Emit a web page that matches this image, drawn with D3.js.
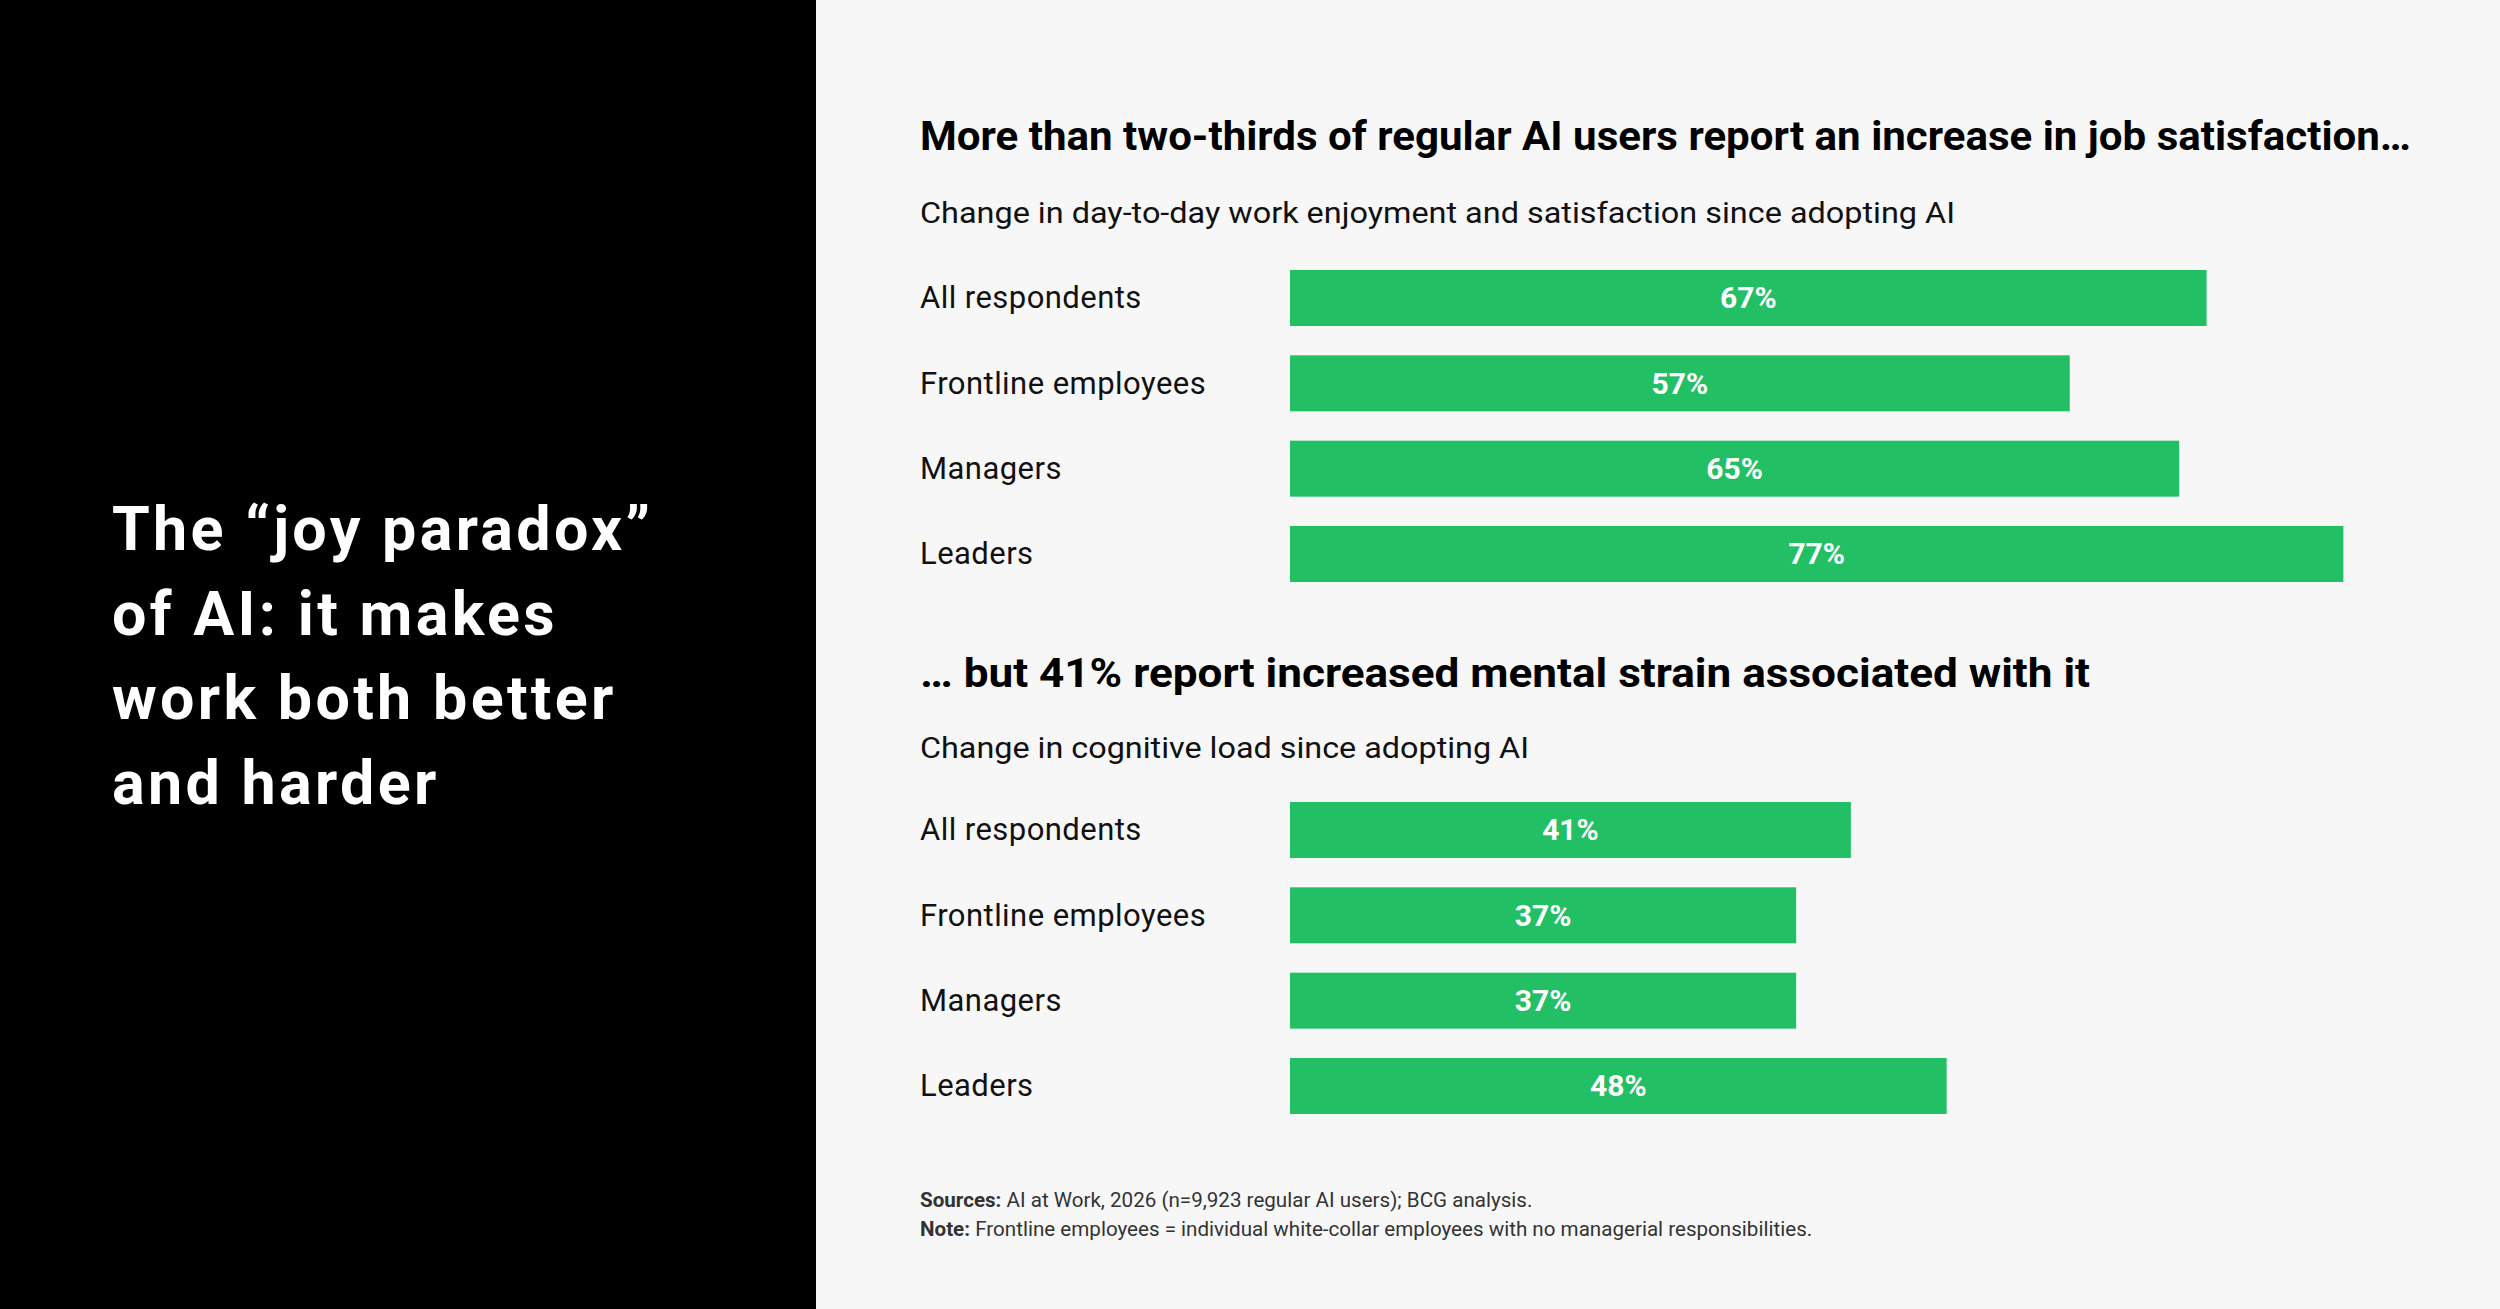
<!DOCTYPE html>
<html>
<head>
<meta charset="utf-8">
<script src="https://cdn.jsdelivr.net/npm/d3@7"></script>
<style>
  body { margin: 0; background: #f7f7f7; }
  svg { display: block; font-family: Roboto, "Noto Sans", sans-serif; }
</style>
</head>
<body>
<script>
// DATA
var categories = ["All respondents", "Frontline employees", "Managers", "Leaders"];
var satisfaction = [67, 57, 65, 77];
var cognitiveLoad = [41, 37, 37, 48];
var headline = ["The \u201Cjoy paradox\u201D", "of AI: it makes", "work both better", "and harder"];

var w = 2500, h = 1309;
var green = "#22bf65";

var svg = d3.select("body").append("svg")
  .attr("width", w)
  .attr("height", h);

svg.append("rect").attr("width", w).attr("height", h).attr("fill", "#f7f7f7");

// black panel with the headline
svg.append("rect").attr("width", 816).attr("height", h).attr("fill", "#000");
svg.append("g").selectAll("text")
  .data(headline)
  .join("text")
  .attr("x", 112)
  .attr("y", function(d, i) { return 550 + i * 84.7; })
  .attr("fill", "#fff")
  .attr("font-size", 61)
  .attr("font-weight", 700)
  .attr("letter-spacing", 3.3)
  .text(function(d) { return d; });

// shared x scale
var x = d3.scaleLinear().domain([0, 100]).range([0, 1368]);
var barX = 1290;

function panel(title, sub, values, titleY, subY, top, titleLen, subLen) {
  var data = categories.map(function(c, i) { return { cat: c, v: values[i] }; });

  svg.append("text")
    .attr("x", 920).attr("y", titleY)
    .attr("font-size", 40).attr("font-weight", 700).attr("fill", "#000")
    .attr("textLength", titleLen).attr("lengthAdjust", "spacingAndGlyphs")
    .text(title);
  svg.append("text")
    .attr("x", 920).attr("y", subY)
    .attr("font-size", 30).attr("fill", "#111")
    .attr("textLength", subLen).attr("lengthAdjust", "spacingAndGlyphs")
    .text(sub);

  var y = d3.scaleBand()
    .domain(categories)
    .range([top - 14.67, top - 14.67 + 4 * 85.33])
    .paddingInner(0.344)
    .paddingOuter(0.172);

  var g = svg.append("g");
  var row = g.selectAll("g").data(data).join("g");

  row.append("text")
    .attr("x", 920)
    .attr("y", function(d) { return y(d.cat) + y.bandwidth() / 2; })
    .attr("dy", "0.33em")
    .attr("font-size", 31)
    .attr("letter-spacing", 0.45)
    .attr("fill", "#111")
    .text(function(d) { return d.cat; });

  row.append("rect")
    .attr("x", barX)
    .attr("y", function(d) { return y(d.cat); })
    .attr("width", function(d) { return x(d.v); })
    .attr("height", y.bandwidth())
    .attr("fill", green);

  row.append("text")
    .attr("x", function(d) { return barX + x(d.v) / 2; })
    .attr("y", function(d) { return y(d.cat) + y.bandwidth() / 2; })
    .attr("dy", "0.35em")
    .attr("text-anchor", "middle")
    .attr("font-size", 30)
    .attr("font-weight", 700)
    .attr("fill", "#fff")
    .text(function(d) { return d.v + "%"; });
}

panel("More than two-thirds of regular AI users report an increase in job satisfaction\u2026",
  "Change in day-to-day work enjoyment and satisfaction since adopting AI",
  satisfaction, 150, 223, 270, 1491, 1035);

panel("\u2026 but 41% report increased mental strain associated with it",
  "Change in cognitive load since adopting AI",
  cognitiveLoad, 687, 758, 802, 1170, 609);

// footnotes
var notes = svg.append("g").attr("font-size", 20.6).attr("fill", "#333");
var s = notes.append("text").attr("x", 920).attr("y", 1207);
s.append("tspan").attr("font-weight", 700).text("Sources: ");
s.append("tspan").text("AI at Work, 2026 (n=9,923 regular AI users); BCG analysis.");
var n = notes.append("text").attr("x", 920).attr("y", 1236);
n.append("tspan").attr("font-weight", 700).text("Note: ");
n.append("tspan").text("Frontline employees = individual white-collar employees with no managerial responsibilities.");
</script>
</body>
</html>
